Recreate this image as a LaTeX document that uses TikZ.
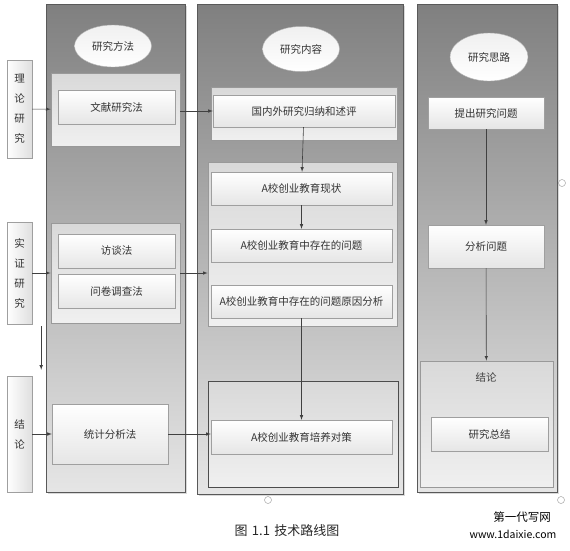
\documentclass[tikz,border=0pt]{standalone}
\usepackage{fontspec}
\setmainfont{Noto Sans CJK SC}
\usetikzlibrary{shapes.geometric,shadows}

\tikzset{
  col/.style={draw=gray!70!black, top color=gray!100, bottom color=gray!20,
    drop shadow={shadow xshift=1.5pt, shadow yshift=-1.5pt, opacity=.3}},
  panel/.style={draw=gray!80, line width=0.8pt, top color=gray!30, bottom color=gray!12},
  box/.style={draw=gray!75, top color=white, bottom color=gray!20, text=black!80,
    font=\fontsize{10.5}{12}\selectfont,
    drop shadow={shadow xshift=1pt, shadow yshift=-1pt, opacity=.3}},
  sidebox/.style={draw=gray!75, left color=white, right color=gray!25, text=black!80,
    align=center, font=\fontsize{10.5}{20}\selectfont, minimum width=25,
    drop shadow={shadow xshift=1pt, shadow yshift=-1pt, opacity=.3}},
  head/.style={ellipse, draw=gray!60, top color=gray!12, bottom color=white, text=black!80,
    font=\fontsize{10.5}{12}\selectfont, inner sep=0pt},
  arr/.style={draw=black!75, line width=0.6pt, -latex},
  mark circle/.style={draw=gray!70, line width=0.5pt}
}

\begin{document}
\begin{tikzpicture}[x=1pt, y=-1pt]
\useasboundingbox (0,0) rectangle (570,550);

\node [col, minimum width=139, minimum height=488] (c1) at (115.5,248) {};
\node [col, minimum width=206, minimum height=490] (c2) at (300,249) {};
\node [col, minimum width=140, minimum height=488] (c3) at (487,248) {};

\node [head, minimum width=77, minimum height=42] (e1) at (113,46) {研究方法};
\node [head, minimum width=77, minimum height=45] (e2) at (301,49) {研究内容};
\node [head, minimum width=78, minimum height=48] (e3) at (489,57) {研究思路};

\node [sidebox, minimum height=98] (s1) at (19.5,109) {理\\论\\研\\究};
\node [sidebox, minimum height=102] (s2) at (19.5,273) {实\\证\\研\\究};
\node [sidebox, minimum height=116] (s3) at (19.5,434) {结\\论};

\node [panel, minimum width=129, minimum height=73] (p1) at (115.5,109.5) {};
\node [panel, minimum width=129, minimum height=100] (p2) at (115.5,273) {};
\node [box, minimum width=117, minimum height=34] (b1) at (116.5,107) {文献研究法};
\node [box, minimum width=117, minimum height=34] (b2) at (116.5,251) {访谈法};
\node [box, minimum width=117, minimum height=34] (b3) at (116.5,291) {问卷调查法};
\node [box, minimum width=116, minimum height=60] (b4) at (110,434) {统计分析法};

\node [panel, minimum width=186, minimum height=53] (q1) at (304,113.5) {};
\node [panel, minimum width=189, minimum height=164] (q2) at (302.5,244) {};
\node [panel, draw=black!70, minimum width=190, minimum height=106] (q3) at (303,434) {};
\node [box, minimum width=182, minimum height=32] (g1) at (304,111) {国内外研究归纳和述评};
\node [box, minimum width=181, minimum height=33] (g2) at (301.5,188.5) {A校创业教育现状};
\node [box, minimum width=181, minimum height=33] (g3) at (301.5,245.5) {A校创业教育中存在的问题};
\node [box, minimum width=181, minimum height=33] (g4) at (301.5,301.5) {A校创业教育中存在的问题原因分析};
\node [box, minimum width=181, minimum height=34] (g5) at (301.5,437) {A校创业教育培养对策};

\node [box, minimum width=116, minimum height=32] (h1) at (486,113) {提出研究问题};
\node [box, minimum width=116, minimum height=43] (h2) at (486,246.5) {分析问题};
\node [panel, minimum width=133, minimum height=126] (r3) at (486.5,424) {};
\node [text=black!75, font=\fontsize{10.5}{12}\selectfont] (r3lab) at (486,377) {结论};
\node [box, minimum width=117, minimum height=34] (h3) at (489.5,434) {研究总结};

\draw [arr] (s1) -- (p1);
\draw [arr] (p1.east |- g1.west) -- (g1.west);
\draw [arr] (g1) -- (g2);
\draw [arr] (g2) -- (g3);
\draw [arr] (g4) -- (g5);
\draw [arr] (s2) -- (p2);
\draw [arr] (p2.east) -- (p2.east -| q2.west);
\draw [arr] ([xshift=9pt,yshift=-2pt]s2.south east) -- ([xshift=9pt,yshift=6pt]s3.north east);
\draw [arr] (s3) -- (b4);
\draw [arr] (b4.east) -- (b4.east -| g5.west);
\draw [arr] (h1) -- (h2);
\draw [arr] (h2) -- (r3);

\draw [mark circle] (268,500) circle (3.5);
\draw [mark circle] (561,500) circle (3.5);
\draw [mark circle] (562,183) circle (3.5);

\node [font=\fontsize{13}{14}\selectfont, text=black!85] (cap) at (287,531) {图\,\,1.1\,\,技术路线图};
\node [font=\fontsize{11.5}{12}\selectfont] (wm1) at (522,517) {第一代写网};
\node [font=\fontsize{10.5}{12}\selectfont] (wm2) at (513,534) {www.1daixie.com};
\end{tikzpicture}
\end{document}
